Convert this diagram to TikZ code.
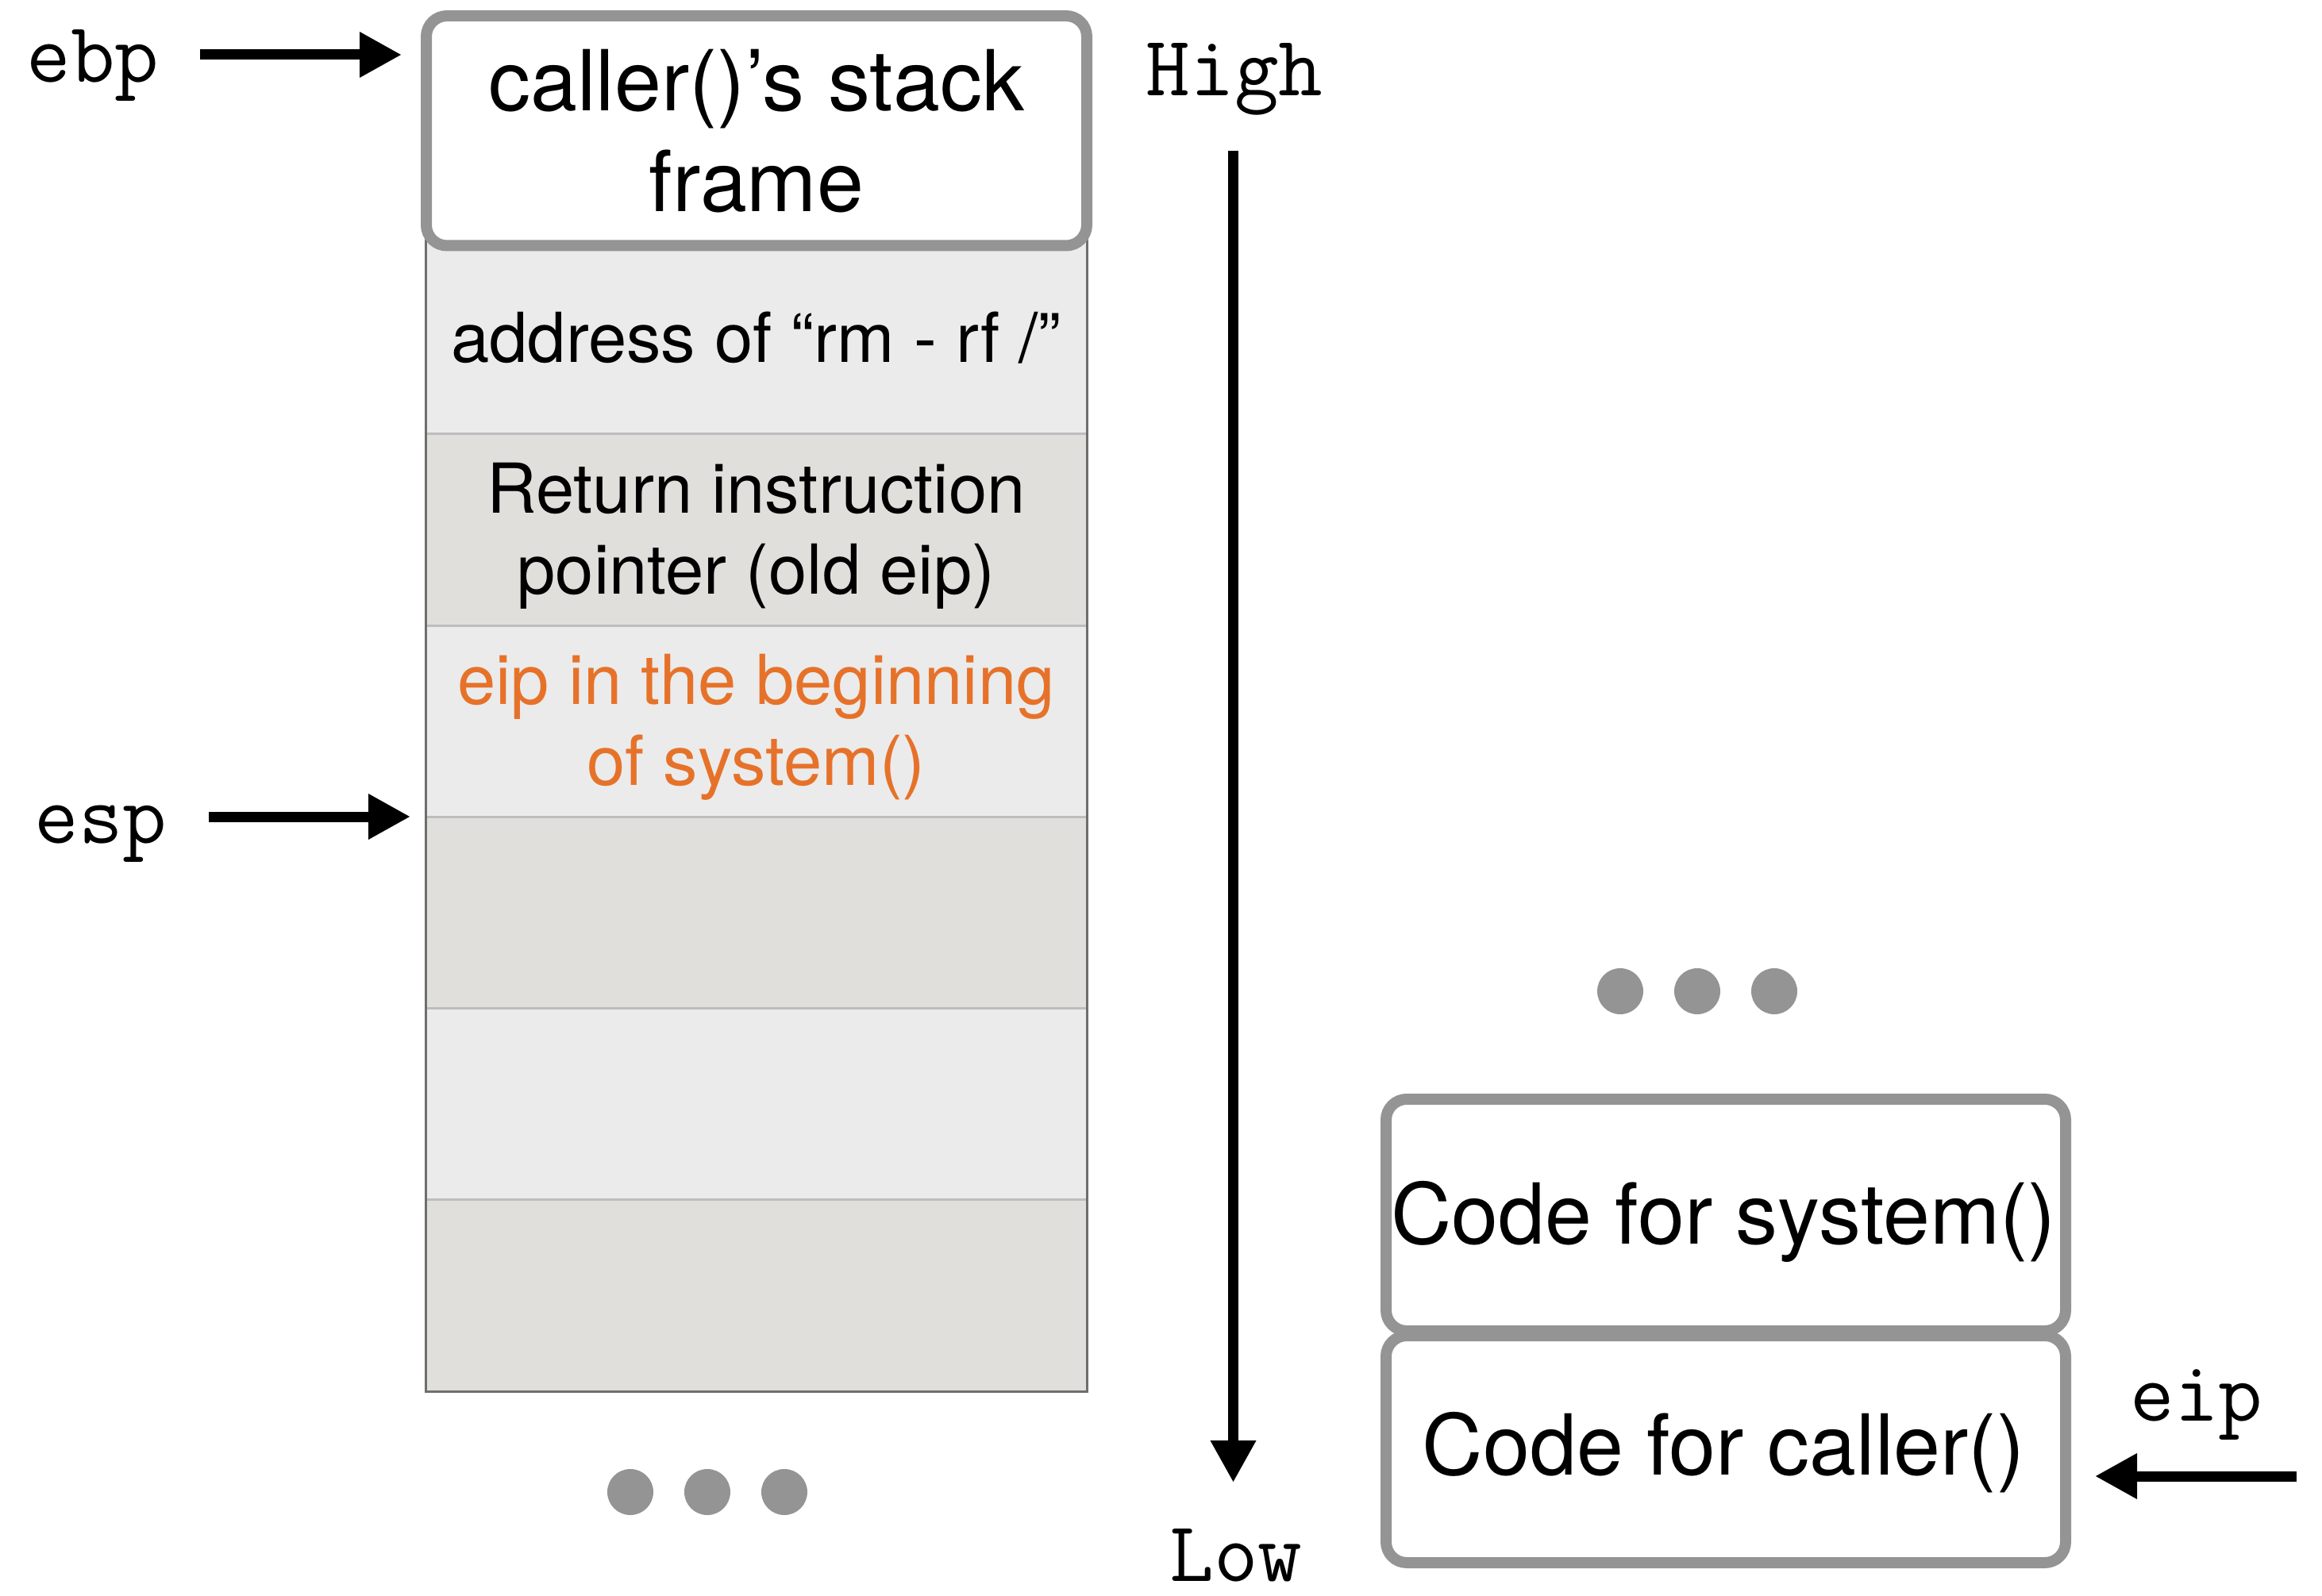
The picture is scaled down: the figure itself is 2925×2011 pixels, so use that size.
\documentclass[tikz,border=0pt]{standalone}
\usepackage{fontspec}
\setmainfont{TeX Gyre Heros}
\usetikzlibrary{arrows.meta}
\definecolor{framegray}{HTML}{949494}
\definecolor{colborder}{HTML}{6E6E6E}
\definecolor{sepgray}{HTML}{BDBDBD}
\definecolor{lightrow}{HTML}{EBEBEB}
\definecolor{darkrow}{HTML}{E0DFDB}
\definecolor{orangec}{HTML}{E6722A}
\begin{document}
\begin{tikzpicture}[x=0.25pt,y=-0.25pt,
  ptr/.style={line width=3.25pt,-{Triangle[length=13.25pt,width=13.5pt]}},
  bigtxt/.style={font=\fontsize{26.5pt}{31.75pt}\selectfont,anchor=base,inner sep=0pt},
  smalltxt/.style={font=\fontsize{21.7pt}{25.25pt}\selectfont,anchor=base,inner sep=0pt},
  monotxt/.style={font=\ttfamily\fontsize{27pt}{30pt}\selectfont,anchor=base,inner sep=0pt},
  codebox/.style={draw=framegray,line width=3.5pt,fill=white,rounded corners=6.5pt,inner sep=0pt},
  rowsep/.style={draw=sepgray,line width=0.75pt},
  dotc/.style={fill=framegray}]
\useasboundingbox (0,0) rectangle (2925,2011);

% stack rows
\fill[lightrow] (536,300) rectangle (1369,547);
\fill[darkrow]  (536,547) rectangle (1369,788);
\fill[lightrow] (536,788) rectangle (1369,1029);
\fill[darkrow]  (536,1029) rectangle (1369,1270);
\fill[lightrow] (536,1270) rectangle (1369,1511);
\fill[darkrow]  (536,1511) rectangle (1369,1753);
\foreach \yy in {547,788,1029,1270,1511}{
  \draw[rowsep] (536,\yy) -- (1369,\yy);
}
\draw[colborder,line width=0.75pt] (536,300) -- (536,1753) -- (1369,1753) -- (1369,300);

% top frame box
\node[codebox,minimum width=208pt,minimum height=72.375pt] (topbox) at (953,164.75) {};
\node[bigtxt] (toptext) at (953,140) {\begin{tabular}[t]{@{}c@{}}caller()’s stack\\frame\end{tabular}};

% row texts
\node[smalltxt] (addr) at (952.5,457) {address of “rm - rf /”};
\node[smalltxt] (ret) at (952.5,647) {\begin{tabular}[t]{@{}c@{}}Return instruction\\pointer (old eip)\end{tabular}};
\node[smalltxt,text=orangec] (sys) at (952.5,888) {\begin{tabular}[t]{@{}c@{}}eip in the beginning\\of system()\end{tabular}};

% dots
\fill[dotc] (794,1880) circle[radius=7.25pt];
\fill[dotc] (891,1880) circle[radius=7.25pt];
\fill[dotc] (988,1880) circle[radius=7.25pt];
\fill[dotc] (2041,1249) circle[radius=7.25pt];
\fill[dotc] (2138,1249) circle[radius=7.25pt];
\fill[dotc] (2235,1249) circle[radius=7.25pt];

% code boxes
\node[codebox,minimum width=214pt,minimum height=73pt] (sysbox) at (2174,1531) {};
\node[codebox,minimum width=214pt,minimum height=71.5pt] (callbox) at (2174,1826) {};
\node[bigtxt] (systext) at (2171,1567) {Code for system()};
\node[bigtxt] (calltext) at (2171,1858) {Code for caller()};

% labels
\node[monotxt] (ebp) at (117,104) {ebp};
\node[monotxt] (esp) at (127,1062) {esp};
\node[monotxt] (high) at (1555,121) {High};
\node[monotxt] (low) at (1557,1992) {Low};
\node[monotxt] (eip) at (2767,1790) {eip};

% arrows
\coordinate (ebpS) at (252,69);
\coordinate (ebpE) at (506,69);
\coordinate (espS) at (263,1029);
\coordinate (espE) at (517,1029);
\coordinate (eipS) at (2893,1860);
\coordinate (eipE) at (2639,1860);
\coordinate (dirS) at (1553.5,190);
\coordinate (dirE) at (1553.5,1868);
\draw[ptr] (ebpS) -- (ebpE);
\draw[ptr] (espS) -- (espE);
\draw[ptr] (eipS) -- (eipE);
\draw[ptr] (dirS) -- (dirE);
\end{tikzpicture}
\end{document}
